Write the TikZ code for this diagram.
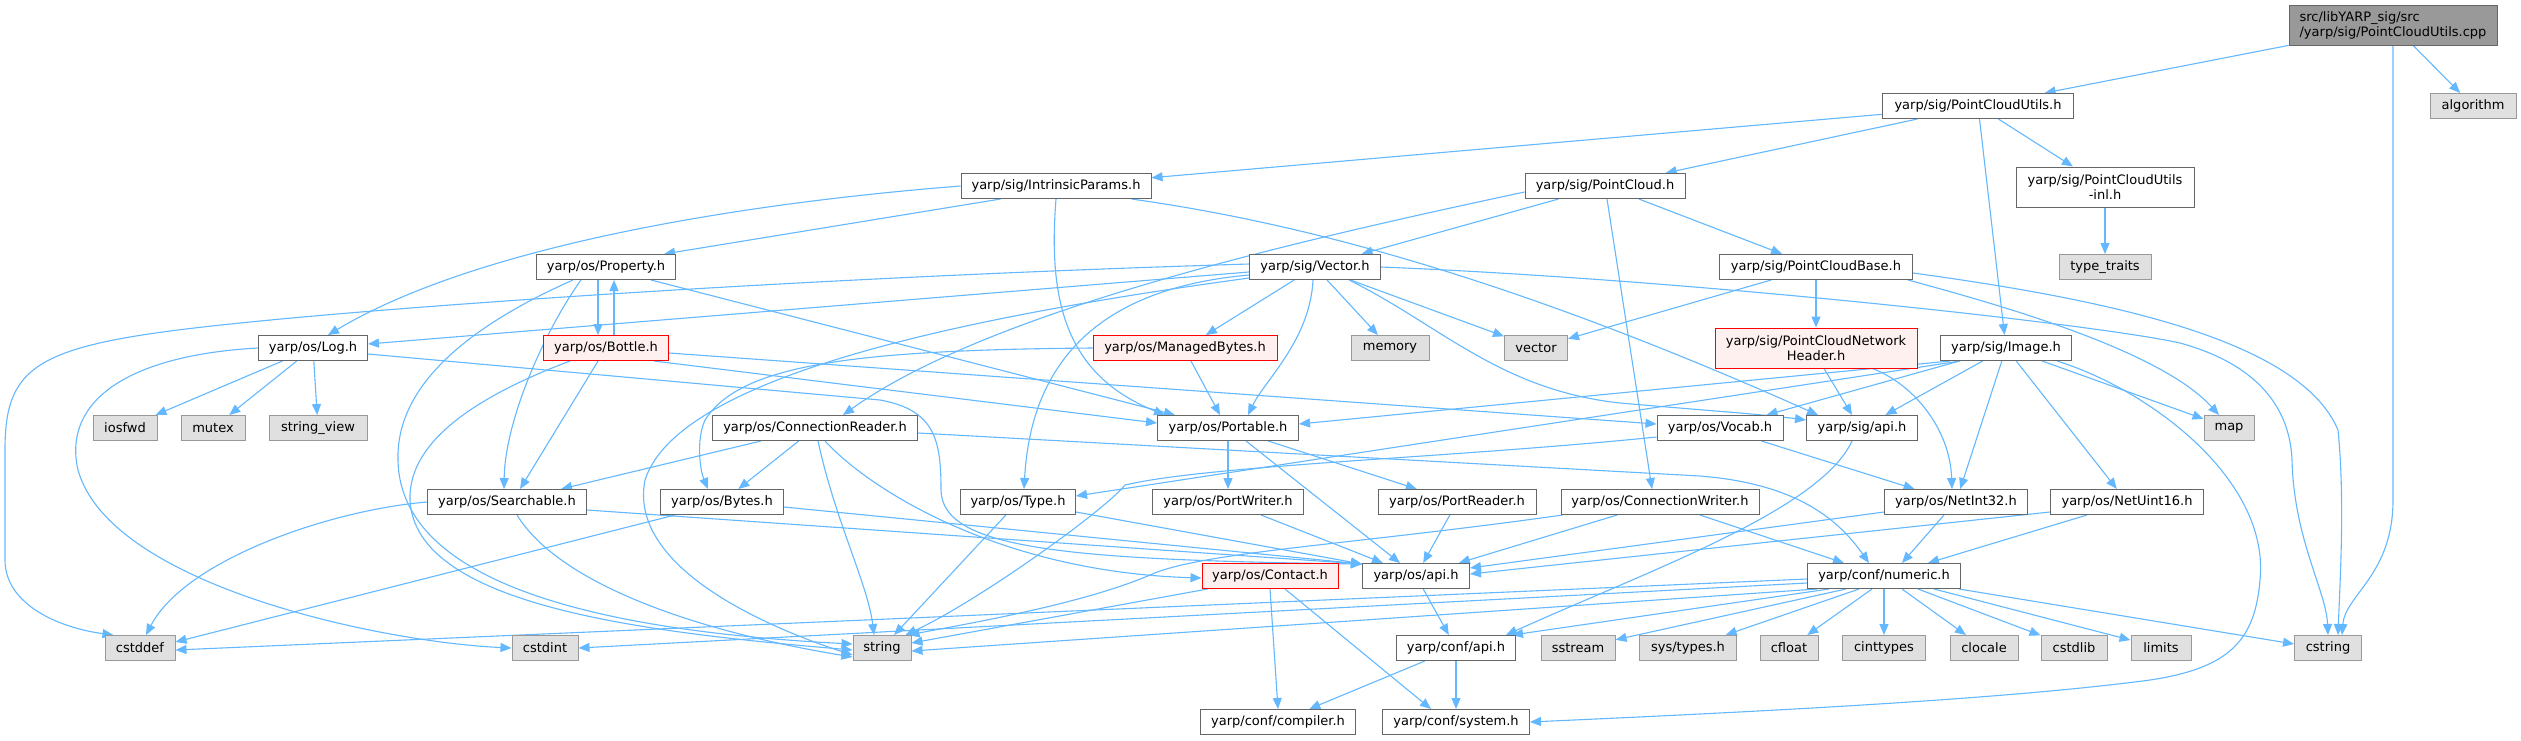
\documentclass[tikz,border=0pt]{standalone}
\usepackage{fontspec}
\setmainfont{DejaVu Sans}
\usetikzlibrary{arrows.meta,calc}
\definecolor{edgeblue}{HTML}{63B8FF}
\definecolor{boxline}{HTML}{666666}
\definecolor{extfill}{HTML}{E0E0E0}
\definecolor{extline}{HTML}{999999}
\definecolor{redfill}{HTML}{FFF0F0}
\definecolor{rootfill}{HTML}{999999}
\pgfdeclarelayer{bg}
\pgfsetlayers{bg,main}
\begin{document}
\begin{tikzpicture}[x=1pt,y=-1pt,
  box/.style={draw=boxline, fill=white, line width=1pt, minimum height=25pt, inner sep=0pt,
    font=\fontsize{13}{15}\selectfont, text=black},
  ext/.style={box, draw=extline, fill=extfill},
  trunc/.style={box, draw=red, fill=redfill},
  rootbox/.style={box, fill=rootfill},
  twoline/.style={minimum height=40pt, align=center},
  e/.style={draw=edgeblue, line width=1.1pt, -{Triangle[length=11pt,width=9pt]}},
]
\useasboundingbox (0,0) rectangle (2521,740);

% rank 0-1
\node[rootbox, twoline, align=left, minimum width=208pt] (root) at (2393,25) {src/libYARP\_sig/src\\/yarp/sig/PointCloudUtils.cpp};
\node[box, minimum width=191pt] (pcuh) at (1978,106) {yarp/sig/PointCloudUtils.h};
\node[ext, minimum width=86pt] (algorithm) at (2473,106) {algorithm};
% rank 2
\node[box, minimum width=190pt] (intr) at (1056,186) {yarp/sig/IntrinsicParams.h};
\node[box, minimum width=160pt] (pc) at (1605,186) {yarp/sig/PointCloud.h};
\node[box, twoline, minimum width=178pt] (pcuinl) at (2105,187) {yarp/sig/PointCloudUtils\\-inl.h};
% rank 3
\node[box, minimum width=139pt] (prop) at (606,267) {yarp/os/Property.h};
\node[box, minimum width=131pt] (vec) at (1315,267) {yarp/sig/Vector.h};
\node[box, minimum width=193pt] (pcb) at (1816,267) {yarp/sig/PointCloudBase.h};
\node[ext, minimum width=92pt] (tt) at (2105,267) {type\_traits};
% rank 4
\node[box, minimum width=109pt] (log) at (313,348) {yarp/os/Log.h};
\node[trunc, minimum width=125pt] (bottle) at (606,348) {yarp/os/Bottle.h};
\node[trunc, minimum width=184pt] (mb) at (1185,348) {yarp/os/ManagedBytes.h};
\node[ext, minimum width=78pt] (memory) at (1390,348) {memory};
\node[ext, minimum width=63pt] (vector) at (1536,348) {vector};
\node[trunc, twoline, minimum width=202pt] (pcnh) at (1816,348) {yarp/sig/PointCloudNetwork\\Header.h};
\node[box, minimum width=131pt] (image) at (2006,348) {yarp/sig/Image.h};
% rank 5
\node[ext, minimum width=64pt] (iosfwd) at (125,428) {iosfwd};
\node[ext, minimum width=64pt] (mutex) at (213,428) {mutex};
\node[ext, minimum width=98pt] (sview) at (318,428) {string\_view};
\node[box, minimum width=205pt] (cr) at (815,428) {yarp/os/ConnectionReader.h};
\node[box, minimum width=141pt] (portable) at (1228,428) {yarp/os/Portable.h};
\node[box, minimum width=126pt] (vocab) at (1720,428) {yarp/os/Vocab.h};
\node[box, minimum width=111pt] (sigapi) at (1862,428) {yarp/sig/api.h};
\node[ext, minimum width=50pt] (map) at (2229,428) {map};
% rank 6
\node[box, minimum width=159pt] (searchable) at (507,502) {yarp/os/Searchable.h};
\node[box, minimum width=123pt] (bytes) at (722,502) {yarp/os/Bytes.h};
\node[box, minimum width=115pt] (type) at (1018,502) {yarp/os/Type.h};
\node[box, minimum width=151pt] (pw) at (1228,502) {yarp/os/PortWriter.h};
\node[box, minimum width=158pt] (pr) at (1457,502) {yarp/os/PortReader.h};
\node[box, minimum width=198pt] (cw) at (1660,502) {yarp/os/ConnectionWriter.h};
\node[box, minimum width=143pt] (ni32) at (1956,502) {yarp/os/NetInt32.h};
\node[box, minimum width=153pt] (nu16) at (2127,502) {yarp/os/NetUint16.h};
% rank 7
\node[trunc, minimum width=136pt] (contact) at (1270,576) {yarp/os/Contact.h};
\node[box, minimum width=107pt] (osapi) at (1416,576) {yarp/os/api.h};
\node[box, minimum width=153pt] (numeric) at (1884,576) {yarp/conf/numeric.h};
% rank 8
\node[ext, minimum width=70pt] (cstddef) at (140,648) {cstddef};
\node[ext, minimum width=66pt] (cstdint) at (545,648) {cstdint};
\node[ext, minimum width=58pt] (string) at (882,648) {string};
\node[box, minimum width=119pt] (confapi) at (1456,648) {yarp/conf/api.h};
\node[ext, minimum width=74pt] (sstream) at (1578,648) {sstream};
\node[ext, minimum width=97pt] (systypes) at (1688,648) {sys/types.h};
\node[ext, minimum width=58pt] (cfloat) at (1789,648) {cfloat};
\node[ext, minimum width=83pt] (cinttypes) at (1884,648) {cinttypes};
\node[ext, minimum width=68pt] (clocale) at (1984,648) {clocale};
\node[ext, minimum width=66pt] (cstdlib) at (2074,648) {cstdlib};
\node[ext, minimum width=60pt] (limits) at (2161,648) {limits};
\node[ext, minimum width=67pt] (cstring) at (2328,648) {cstring};
% rank 9
\node[box, minimum width=155pt] (compiler) at (1278,722) {yarp/conf/compiler.h};
\node[box, minimum width=147pt] (system) at (1456,722) {yarp/conf/system.h};

\coordinate (osapiL) at ($(osapi.north west)+(0,1)$);

\begin{pgfonlayer}{bg}
\fill[white] (0,0) rectangle (2521,740);
% root
\draw[e] (root) -- (pcuh);
\draw[e] (root) -- (algorithm);
\draw[e] (root.south) -- (2393,500) .. controls (2393,575) and (2345,595) .. ($(cstring.north)+(14,0)$);
% PointCloudUtils.h
\draw[e] (pcuh) -- (intr);
\draw[e] (pcuh) -- (pc);
\draw[e] (pcuh) -- (pcuinl);
\draw[e] (pcuh) -- (image);
\draw[e] (pcuinl) -- (tt);
% IntrinsicParams.h
\draw[e] (intr.west) .. controls (720,205) and (470,250) .. ($(log.north)+(15,0)$);
\draw[e] ($(intr.south west)+(40,0)$) -- ($(prop.north east)+(-12,0)$);
\draw[e] (intr.south) .. controls (1048,300) and (1065,375) .. ($(portable.north west)+(8,0)$);
\draw[e] ($(intr.south east)+(-20,0)$) .. controls (1310,224) and (1520,282) .. ($(sigapi.north west)+(12,0)$);
% PointCloud.h
\draw[e] ($(pc.west)+(0,6)$) .. controls (1300,240) and (990,310) .. ($(cr.north)+(28,0)$);
\draw[e] (pc) -- (vec);
\draw[e] ($(pc.south)+(2,0)$) -- ($(cw.north)+(-8,0)$);
\draw[e] (pc) -- (pcb);
% Property.h
\draw[e] ($(prop.south)+(-8,0)$) -- ($(bottle.north)+(-8,0)$);
\draw[e] ($(bottle.north)+(8,0)$) -- ($(prop.south)+(8,0)$);
\draw[e] ($(prop.south)+(-25,0)$) .. controls (545,330) and (505,420) .. ($(searchable.north)+(-3,0)$);
\draw[e] ($(prop.south east)+(-25,0)$) -- ($(portable.north west)+(18,0)$);
\draw[e] ($(prop.south)+(-33,0)$) .. controls (460,330) and (396,390) .. (398,460) .. controls (400,590) and (620,632) .. ($(string.west)+(0,-4)$);
% Bottle.h
\draw[e] ($(bottle.south)+(-36,0)$) .. controls (480,395) and (408,440) .. (410,500) .. controls (415,605) and (640,632) .. ($(string.west)+(0,2)$);
\draw[e] (bottle) -- ($(searchable.north)+(13,0)$);
\draw[e] ($(bottle.south east)+(-15,0)$) -- ($(portable.west)+(0,-5)$);
\draw[e] ($(bottle.east)+(0,5)$) -- ($(vocab.west)+(0,-4)$);
% Log.h
\draw[e] (log) -- (iosfwd);
\draw[e] (log) -- (mutex);
\draw[e] (log) -- (sview);
\draw[e] (log.west) .. controls (130,355) and (62,400) .. (78,470) .. controls (110,585) and (380,642) .. (cstdint.west);
\draw[e] ($(log.east)+(0,6)$) -- (880,400) .. controls (935,410) and (941,440) .. (941,490) .. controls (942,548) and (1060,560) .. (osapiL);
% Vector.h
\draw[e] ($(vec.west)+(0,-3)$) .. controls (850,276) and (450,302) .. (250,322) .. controls (40,343) and (5,360) .. (5,450) -- (5,560) .. controls (5,605) and (60,628) .. ($(cstddef.north west)+(9,0)$);
\draw[e] ($(vec.west)+(0,5)$) -- ($(log.east)+(0,-4)$);
\draw[e] (vec) -- (mb);
\draw[e] (vec) -- (memory);
\draw[e] (vec) -- (vector);
\draw[e] ($(vec.south)+(-2,0)$) .. controls (1310,340) and (1265,380) .. ($(portable.north)+(20,0)$);
\draw[e] ($(vec.west)+(0,8)$) .. controls (1080,290) and (1030,380) .. ($(type.north)+(6,0)$);
\draw[e] ($(vec.south east)+(-32,0)$) .. controls (1440,325) and (1500,390) .. (1620,403) .. controls (1700,410) and (1760,414) .. ($(sigapi.west)+(0,-8)$);
\draw[e] (vec.east) .. controls (1700,280) and (2100,325) .. (2180,343) .. controls (2260,365) and (2290,410) .. (2292,460) .. controls (2294,540) and (2326,590) .. ($(cstring.north)+(0,0)$);
\draw[e] ($(vec.west)+(0,11)$) .. controls (1000,312) and (680,370) .. (645,480) .. controls (628,565) and (760,625) .. ($(string.west)+(0,7)$);
% ManagedBytes.h
\draw[e] (mb.west) .. controls (850,350) and (740,365) .. (705,420) .. controls (696,440) and (700,470) .. ($(bytes.north)+(-14,0)$);
\draw[e] ($(mb.south)+(6,0)$) -- ($(portable.north)+(-8,0)$);
% PointCloudBase.h
\draw[e] (pcb) -- (vector);
\draw[e] (pcb) -- (pcnh);
\draw[e] ($(pcb.south east)+(-5,0)$) .. controls (2000,305) and (2160,350) .. ($(map.north)+(-10,0)$);
\draw[e] ($(pcb.east)+(0,6)$) .. controls (2110,300) and (2300,340) .. (2338,430) .. controls (2345,500) and (2340,580) .. ($(cstring.north)+(10,0)$);
% PointCloudNetworkHeader.h
\draw[e] ($(pcnh.south)+(8,0)$) -- ($(sigapi.north)+(-10,0)$);
\draw[e] ($(pcnh.south east)+(-45,0)$) .. controls (1915,385) and (1950,430) .. ($(ni32.north)+(-4,0)$);
% Image.h
\draw[e] ($(image.south west)+(10,0)$) -- ($(portable.east)+(0,-4)$);
\draw[e] ($(image.south west)+(20,0)$) -- ($(type.east)+(0,-6)$);
\draw[e] (image) -- (vocab);
\draw[e] (image) -- (sigapi);
\draw[e] (image) -- (ni32);
\draw[e] (image) -- (nu16);
\draw[e] (image) -- (map);
\draw[e] ($(image.south east)+(-15,0)$) .. controls (2150,390) and (2270,480) .. (2260,580) .. controls (2255,640) and (2230,668) .. (2150,680) .. controls (2000,700) and (1750,712) .. (system.east);
% ConnectionReader.h
\draw[e] (cr) -- (searchable);
\draw[e] (cr) -- (bytes);
\draw[e] ($(cr.south)+(3,0)$) .. controls (835,520) and (868,585) .. ($(string.north)+(-8,0)$);
\draw[e] ($(cr.south)+(10,0)$) .. controls (870,490) and (1000,572) .. ($(contact.west)+(0,2)$);
\draw[e] ($(cr.east)+(0,5)$) -- (1700,476) .. controls (1800,484) and (1840,522) .. ($(numeric.north)+(-15,0)$);
% Portable.h
\draw[e] (portable) -- (pw);
\draw[e] (portable) -- (pr);
\draw[e] ($(portable.south)+(18,0)$) -- ($(osapi.north)+(-16,0)$);
% Vocab.h
\draw[e] (vocab) -- (ni32);
\draw[e] ($(vocab.south west)+(0,-4)$) .. controls (1450,458) and (1210,465) .. (1125,485) .. controls (1105,510) and (980,600) .. ($(string.north east)+(-6,0)$);
% sig/api.h
\draw[e] ($(sigapi.south)+(-10,0)$) .. controls (1820,510) and (1650,570) .. ($(confapi.north east)+(-10,0)$);
% Searchable.h
\draw[e] (searchable.west) .. controls (330,510) and (185,560) .. ($(cstddef.north)+(6,0)$);
\draw[e] ($(searchable.south)+(10,0)$) .. controls (560,585) and (700,632) .. ($(string.west)+(0,9)$);
\draw[e] ($(searchable.east)+(0,8)$) -- (osapiL);
% Bytes.h
\draw[e] ($(bytes.south west)+(15,0)$) -- ($(cstddef.east)+(0,-6)$);
\draw[e] ($(bytes.east)+(0,5)$) -- (osapiL);
% Type.h
\draw[e] (type) -- (string);
\draw[e] ($(type.south east)+(0,-3)$) -- (osapiL);
% PortWriter.h, PortReader.h
\draw[e] (pw) -- (osapi);
\draw[e] (pr) -- (osapi);
% ConnectionWriter.h
\draw[e] (cw) -- (osapi);
\draw[e] ($(cw.south west)+(2,0)$) .. controls (1350,545) and (1200,552) .. (1150,575) .. controls (1080,605) and (960,625) .. ($(string.north east)+(-3,0)$);
\draw[e] ($(cw.south)+(40,0)$) -- ($(numeric.north)+(-40,0)$);
% NetInt32.h, NetUint16.h
\draw[e] ($(ni32.south)+(-12,0)$) -- ($(numeric.north)+(18,0)$);
\draw[e] ($(ni32.south west)+(0,-3)$) -- ($(osapi.east)+(0,-8)$);
\draw[e] ($(nu16.south)+(-40,0)$) -- ($(numeric.north)+(44,0)$);
\draw[e] ($(nu16.south west)+(0,-3)$) -- ($(osapi.east)+(0,-2)$);
% Contact.h
\draw[e] ($(contact.south west)+(6,0)$) -- ($(string.east)+(0,-5)$);
\draw[e] (contact.south) -- (compiler.north);
\draw[e] ($(contact.south)+(15,0)$) -- ($(system.north)+(-25,0)$);
% api.h
\draw[e] (osapi) -- (confapi);
\draw[e] (confapi) -- (compiler);
\draw[e] (confapi) -- (system);
% numeric.h
\draw[e] ($(numeric.west)+(0,3)$) -- ($(cstddef.east)+(0,2)$);
\draw[e] ($(numeric.west)+(0,7)$) -- (cstdint.east);
\draw[e] ($(numeric.south west)+(10,0)$) -- ($(string.east)+(0,3)$);
\draw[e] ($(numeric.south)+(-55,0)$) -- ($(confapi.north east)+(-4,0)$);
\draw[e] ($(numeric.south)+(-38,0)$) -- (sstream);
\draw[e] ($(numeric.south)+(-25,0)$) -- (systypes);
\draw[e] ($(numeric.south)+(-12,0)$) -- (cfloat);
\draw[e] (numeric) -- (cinttypes);
\draw[e] ($(numeric.south)+(18,0)$) -- (clocale);
\draw[e] ($(numeric.south)+(34,0)$) -- (cstdlib);
\draw[e] ($(numeric.south)+(50,0)$) -- (limits);
\draw[e] ($(numeric.south east)+(-2,0)$) -- ($(cstring.west)+(0,-4)$);
\end{pgfonlayer}
\end{tikzpicture}
\end{document}
